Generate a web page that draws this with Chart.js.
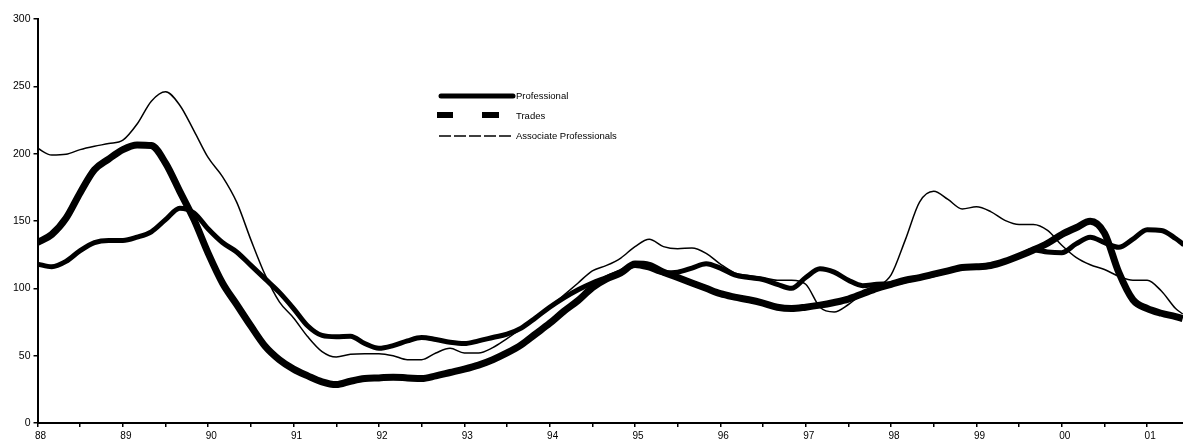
<!DOCTYPE html>
<html><head><meta charset="utf-8">
<script src="https://cdn.jsdelivr.net/npm/chart.js@4/dist/chart.umd.min.js"></script>
<style>html,body{margin:0;padding:0;background:#fff;overflow:hidden}#wrap{width:1183px;height:445px;position:relative}</style>
</head><body><div id="wrap"><canvas id="c"></canvas></div>
<script>
const months = [
'1988-01','1988-03','1988-05','1988-07','1988-09','1988-11',
'1989-01','1989-03','1989-05','1989-07','1989-09','1989-11',
'1990-01','1990-03','1990-05','1990-07','1990-09','1990-11',
'1991-01','1991-03','1991-05','1991-07','1991-09','1991-11',
'1992-01','1992-03','1992-05','1992-07','1992-09','1992-11',
'1993-01','1993-03','1993-05','1993-07','1993-09','1993-11',
'1994-01','1994-03','1994-05','1994-07','1994-09','1994-11',
'1995-01','1995-03','1995-05','1995-07','1995-09','1995-11',
'1996-01','1996-03','1996-05','1996-07','1996-09','1996-11',
'1997-01','1997-03','1997-05','1997-07','1997-09','1997-11',
'1998-01','1998-03','1998-05','1998-07','1998-09','1998-11',
'1999-01','1999-03','1999-05','1999-07','1999-09','1999-11',
'2000-01','2000-03','2000-05','2000-07','2000-09','2000-11',
'2001-01','2001-03','2001-05','2001-06'
];
const yearLabels = ['88','89','90','91','92','93','94','95','96','97','98','99','00','01'];
const yTicks = [0,50,100,150,200,250,300];

const professional = [
118,116,120,128,134,135.6,
135.6,138,142,151,159.5,156,
144,134,127,117,107,97,
85,72,65,64,64.5,59,
55.5,57.5,61,63.5,62,60,
59,61,63.5,66,70.5,78,
86,93,99,104,108,112.5,
117,115,111.5,112,115,118.3,
115,110,108,106.5,103,100,
108,114.5,112,106,102,103,
103.5,105.5,108,110,113,115.5,
116,117,120,124,128.5,127,
126.5,133,138,134,130.5,136.5,
143.5,143,137,133
];
const trades = [
134,140,152,171,188,196,
203,206.5,206,193,172,151,
126,104,88,72,57,47,
40,35,30.5,28.5,31,33,
33.5,34,33.5,33,35,37.5,
40,43,47,52,58,66,
74,83,91,100.5,107,111.5,
118,117,112,108,104,100,
96,93.5,91.5,89,86,85,
86,87.5,89.5,92,96,100,
103,106,108,110.5,113,115.5,
116,117,120,124,128.5,133.5,
140,145,149.8,141,112,91.5,
85,81.5,79,77.5
];
const associate = [
204,199,199.5,203,205.5,207.5,
210,222,239,246,236,217,
197,183,164,136,110,90,
78,64,53,49,51,51.5,
51.5,50,47,47,52,55.5,
52,52,56,62.7,70,78,
86,95,104,113,117,122.5,
131,136.5,131,129.4,130,126,
118,111.5,109.5,108,106,106,
103,86,82.5,88,96,101,
110,136,164,172,166,159,
160.5,157,150.5,147.4,147.4,143,
132,123,117.5,114,109,106,
106,98,85,81
];

const tVals = months.map(m => { const p = m.split('-').map(Number); return p[0] + (p[1]-1)/12; });
const toPts = arr => arr.map((v,i) => ({x: tVals[i], y: v}));
const firstYear = 1900 + Number(yearLabels[0]);
const xTickVals = [];
yearLabels.forEach((l,i) => { xTickVals.push(firstYear + i); if (i < yearLabels.length-1) xTickVals.push(firstYear + i + 0.5); });

const FONT = '"Liberation Sans", Arial, sans-serif';

const legendPlugin = {
  id: 'inlineLegend',
  afterDraw(chart) {
    const ctx = chart.ctx;
    const ds = chart.data.datasets;
    ctx.save();
    ctx.fillStyle = '#000';
    ctx.strokeStyle = '#000';
    ctx.lineWidth = 5; ctx.lineCap = 'round';
    ctx.beginPath(); ctx.moveTo(441, 96); ctx.lineTo(513, 96); ctx.stroke();
    ctx.fillRect(437, 112, 16, 6);
    ctx.fillRect(482, 112, 17, 6);
    ctx.lineWidth = 1.5; ctx.lineCap = 'butt'; ctx.setLineDash([12,3]);
    ctx.beginPath(); ctx.moveTo(439, 136); ctx.lineTo(514, 136); ctx.stroke();
    ctx.setLineDash([]);
    ctx.font = '9.5px ' + FONT;
    ctx.textBaseline = 'middle';
    ctx.fillText(ds[0].label, 516, 96);
    ctx.fillText(ds[1].label, 516, 116);
    ctx.fillText(ds[2].label, 516, 136);
    ctx.restore();
  }
};

new Chart(document.getElementById('c'), {
  type: 'line',
  data: {
    datasets: [
      {label: 'Professional', data: toPts(professional), borderColor: '#000', borderWidth: 5, pointRadius: 0, cubicInterpolationMode: 'monotone', borderCapStyle: 'round', borderJoinStyle: 'round'},
      {label: 'Trades', data: toPts(trades), borderColor: '#000', borderWidth: 7, pointRadius: 0, cubicInterpolationMode: 'monotone', borderCapStyle: 'butt', borderJoinStyle: 'miter'},
      {label: 'Associate Professionals', data: toPts(associate), borderColor: '#000', borderWidth: 1.5, pointRadius: 0, cubicInterpolationMode: 'monotone'}
    ]
  },
  options: {
    responsive: true,
    maintainAspectRatio: false,
    animation: false,
    layout: {padding: {left: 10, top: 19, right: 0, bottom: 0}},
    plugins: {legend: {display: false}, tooltip: {enabled: false}},
    scales: {
      x: {
        type: 'linear', min: 1988, max: 2001.42,
        afterBuildTicks: s => { s.ticks = xTickVals.map(v => ({value: v})); },
        border: {color: '#000', width: 2},
        grid: {drawOnChartArea: false, tickColor: '#000', tickLength: 4, lineWidth: 1.5},
        ticks: {autoSkip: false, maxRotation: 0, color: '#000', padding: 3, labelOffset: 3, font: {family: FONT, size: 10},
          callback: v => Number.isInteger(v) ? yearLabels[v - firstYear] : ''}
      },
      y: {
        min: 0, max: 300,
        afterBuildTicks: s => { s.ticks = yTicks.map(v => ({value: v})); },
        border: {color: '#000', width: 2},
        grid: {drawOnChartArea: false, tickColor: '#000', tickLength: 4, lineWidth: 1.5},
        ticks: {color: '#000', padding: 3, font: {family: FONT, size: 10.5}}
      }
    }
  },
  plugins: [legendPlugin]
});
</script></body></html>
